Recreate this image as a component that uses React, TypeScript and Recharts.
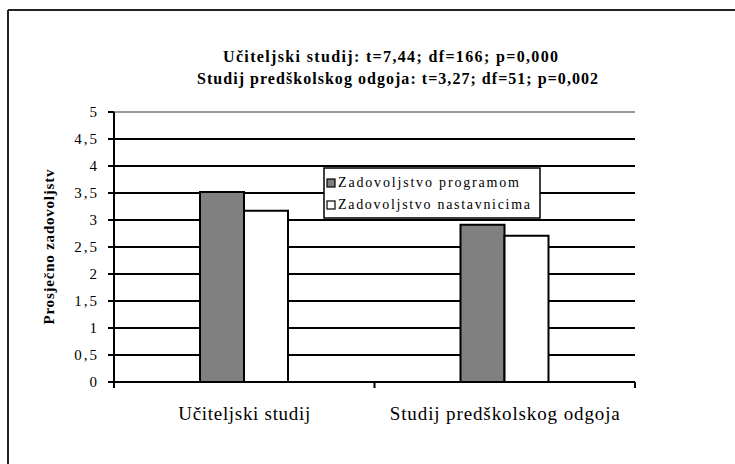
import React from 'react';
import { BarChart, Bar, XAxis, YAxis, CartesianGrid, Legend, ReferenceLine } from 'recharts';

const categories = ['Učiteljski studij', 'Studij predškolskog odgoja'];
const programValues = [3.52, 2.91];
const teacherValues = [3.17, 2.71];
const yTicks = [0, 0.5, 1, 1.5, 2, 2.5, 3, 3.5, 4, 4.5, 5];
const seriesNames = ['Zadovoljstvo programom', 'Zadovoljstvo nastavnicima'];
const titleLines = ['Učiteljski studij: t=7,44; df=166; p=0,000', 'Studij predškolskog odgoja: t=3,27; df=51; p=0,002'];
const yLabel = 'Prosječno zadovoljstv';

const data = categories.map((c, i) => ({ name: c, program: programValues[i], teacher: teacherValues[i] }));

const FONT = "'Liberation Serif', 'Times New Roman', Times, serif";
const xLabelLengths = [132, 230];

const XTick = (props: any) => {
  const { x, y, payload, index } = props;
  const off = payload.offset || 0;
  return (
    <g>
      <line x1={x - off} y1={y} x2={x - off} y2={y + 6} stroke="#000" strokeWidth={2} />
      {index === categories.length - 1 && (
        <line x1={x + off} y1={y} x2={x + off} y2={y + 6} stroke="#000" strokeWidth={2} />
      )}
      <text x={x} y={y + 38} textAnchor="middle" style={{ fontFamily: FONT, fontSize: 19 }} fill="#000"
        textLength={xLabelLengths[index]} lengthAdjust="spacing">{payload.value}</text>
    </g>
  );
};

const YTick = (props: any) => {
  const { x, y, payload } = props;
  return (
    <text x={x + 2} y={y + 5} textAnchor="end" style={{ fontFamily: FONT, fontSize: 15, letterSpacing: 2 }} fill="#000">
      {String(payload.value).replace('.', ',')}
    </text>
  );
};

const LegendBox = () => (
  <svg width={218} height={52} style={{ display: 'block' }}>
    <rect x={1} y={1} width={216} height={50} fill="#fff" stroke="#000" strokeWidth={1.5} />
    <rect x={4} y={12} width={8} height={8} fill="#808080" stroke="#000" strokeWidth={1.2} />
    <text x={15} y={20} style={{ fontFamily: FONT, fontSize: 14 }} fill="#000" textLength={181} lengthAdjust="spacing">{seriesNames[0]}</text>
    <rect x={4} y={34} width={8} height={8} fill="#fff" stroke="#000" strokeWidth={1.2} />
    <text x={15} y={42} style={{ fontFamily: FONT, fontSize: 14 }} fill="#000" textLength={192} lengthAdjust="spacing">{seriesNames[1]}</text>
  </svg>
);

export default function App() {
  return (
    <div style={{ position: 'absolute', left: 0, top: 0, width: 735, height: 464, background: '#fff', fontFamily: FONT }}>
      <BarChart width={735} height={464} data={data} margin={{ top: 112, right: 100, left: 0, bottom: 42 }}
        barGap={0} barCategoryGap="33%">
        <CartesianGrid vertical={false} stroke="#000" strokeWidth={2} />
        <XAxis dataKey="name" height={40} axisLine={{ stroke: '#000', strokeWidth: 2 }} tickLine={false}
          tickSize={0} tickMargin={0} tick={<XTick />} interval={0} />
        <YAxis domain={[0, 5]} ticks={yTicks} width={114} interval={0}
          axisLine={{ stroke: '#000', strokeWidth: 2 }} tickLine={{ stroke: '#000', strokeWidth: 2 }}
          tickSize={6} tickMargin={11} tick={<YTick />} />
        <YAxis yAxisId="right" orientation="right" width={0} domain={[0, 5]} tick={false} tickLine={false}
          axisLine={{ stroke: '#999', strokeWidth: 2 }} />
        <ReferenceLine y={5} stroke="#999" strokeWidth={2} />
        <Bar dataKey="program" name={seriesNames[0]} fill="#808080" stroke="#000" strokeWidth={2} barSize={44} isAnimationActive={false} />
        <Bar dataKey="teacher" name={seriesNames[1]} fill="#fff" stroke="#000" strokeWidth={2} barSize={44} isAnimationActive={false} />
        <Legend layout="horizontal" verticalAlign="middle" align="center" content={() => <LegendBox />}
          wrapperStyle={{ left: 323, top: 167, width: 218, height: 52 }} />
      </BarChart>
      <svg width={735} height={464} style={{ position: 'absolute', left: 0, top: 0, pointerEvents: 'none' }}>
        <line x1={8} y1={10} x2={735} y2={10} stroke="#222" strokeWidth={2} />
        <line x1={8} y1={10} x2={8} y2={464} stroke="#222" strokeWidth={2} />
        <text x={223} y={62} style={{ fontFamily: FONT, fontSize: 16, fontWeight: 'bold' }} fill="#000" textLength={335} lengthAdjust="spacing">{titleLines[0]}</text>
        <text x={197} y={84} style={{ fontFamily: FONT, fontSize: 16, fontWeight: 'bold' }} fill="#000" textLength={401} lengthAdjust="spacing">{titleLines[1]}</text>
        <text transform="translate(54,247) rotate(-90)" textAnchor="middle" style={{ fontFamily: FONT, fontSize: 15, fontWeight: 'bold' }} fill="#000" textLength={155} lengthAdjust="spacing">{yLabel}</text>
      </svg>
    </div>
  );
}
